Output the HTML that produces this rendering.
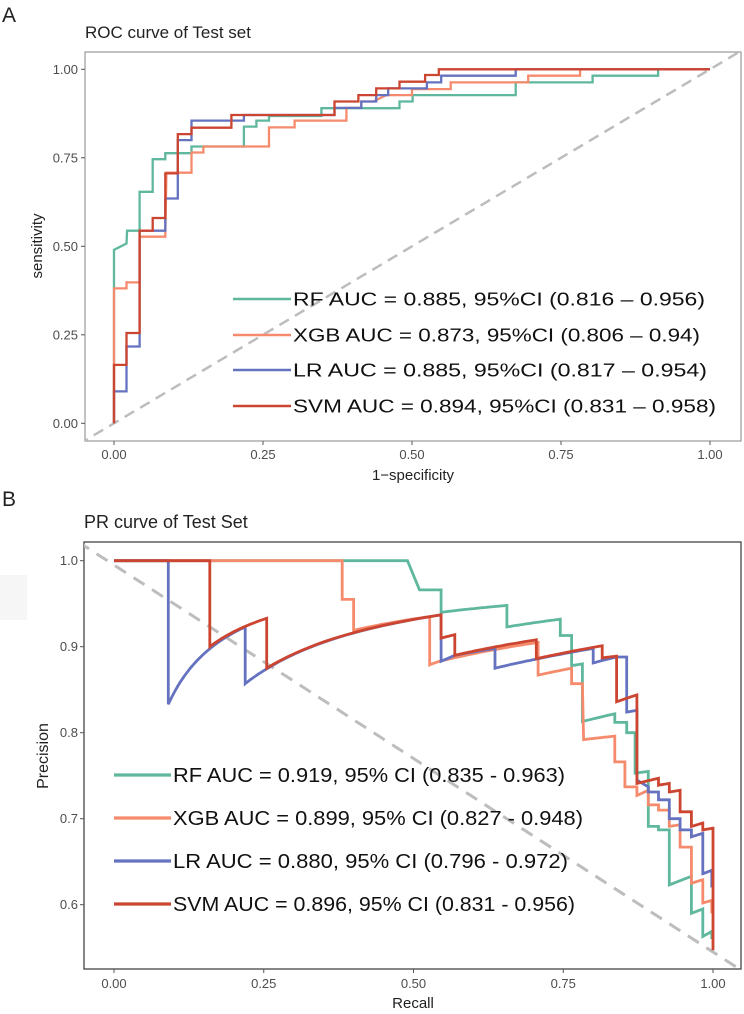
<!DOCTYPE html>
<html><head><meta charset="utf-8"><style>
html,body{margin:0;padding:0;background:#fff;}
svg{display:block;font-family:"Liberation Sans",Arial,sans-serif;}
</style></head><body>
<svg id="fig" width="744" height="1014" viewBox="0 0 744 1014" xmlns="http://www.w3.org/2000/svg">
<rect x="0" y="575" width="27" height="45" fill="#f6f6f6"/>
<text x="2" y="22" font-size="21" fill="#222">A</text>
<text x="85" y="38" font-size="17" fill="#222">ROC curve of Test set</text>
<text x="2" y="506" font-size="21" fill="#222">B</text>
<text x="84" y="528" font-size="18" fill="#222">PR curve of Test Set</text>
<g id="rocG"></g>
<g id="prG"></g>
</svg>
<script>
const NS="http://www.w3.org/2000/svg";
const colors=["#5fb89d","#f58b6c","#6572c0","#cc4531"];
const rocSeries=["RF","XGB","LR","SVM"];
const rocLegend=["RF AUC = 0.885, 95%CI (0.816 – 0.956)","XGB  AUC = 0.873, 95%CI (0.806 – 0.94)","LR AUC = 0.885, 95%CI (0.817 – 0.954)","SVM  AUC = 0.894, 95%CI (0.831 – 0.958)"];
const rocTicks=[0,0.25,0.5,0.75,1];
const rocTickLabels=["0.00","0.25","0.50","0.75","1.00"];
const rocRF=[[0,0],[0,0.49],[0.021,0.508],[0.022,0.544],[0.043,0.544],[0.043,0.654],[0.065,0.654],[0.065,0.746],[0.086,0.746],[0.086,0.763],[0.13,0.763],[0.13,0.782],[0.218,0.782],[0.218,0.838],[0.239,0.838],[0.239,0.855],[0.26,0.855],[0.26,0.868],[0.348,0.868],[0.348,0.89],[0.479,0.89],[0.479,0.909],[0.501,0.909],[0.501,0.927],[0.674,0.927],[0.674,0.963],[0.803,0.963],[0.803,0.982],[0.913,0.982],[0.913,1],[1,1]];
const rocXGB=[[0,0],[0,0.381],[0.021,0.381],[0.021,0.398],[0.043,0.398],[0.043,0.527],[0.086,0.527],[0.088,0.708],[0.13,0.708],[0.13,0.765],[0.15,0.765],[0.15,0.782],[0.26,0.782],[0.26,0.836],[0.303,0.836],[0.303,0.855],[0.39,0.855],[0.39,0.874],[0.39,0.891],[0.415,0.891],[0.415,0.909],[0.435,0.909],[0.457,0.927],[0.5,0.927],[0.5,0.944],[0.565,0.944],[0.565,0.963],[0.695,0.963],[0.695,0.982],[0.782,0.982],[0.782,1],[1,1]];
const rocLR=[[0,0],[0,0.09],[0.021,0.09],[0.021,0.217],[0.043,0.217],[0.043,0.544],[0.086,0.544],[0.086,0.635],[0.107,0.635],[0.107,0.8],[0.13,0.8],[0.13,0.855],[0.218,0.855],[0.218,0.871],[0.37,0.871],[0.37,0.891],[0.415,0.891],[0.415,0.909],[0.44,0.909],[0.44,0.927],[0.46,0.927],[0.46,0.946],[0.525,0.946],[0.525,0.963],[0.549,0.963],[0.549,0.982],[0.674,0.982],[0.674,1],[1,1]];
const rocSVM=[[0,0],[0,0.165],[0.021,0.165],[0.021,0.255],[0.043,0.255],[0.043,0.544],[0.065,0.544],[0.065,0.58],[0.086,0.58],[0.086,0.706],[0.107,0.706],[0.107,0.817],[0.13,0.817],[0.13,0.835],[0.197,0.835],[0.197,0.871],[0.37,0.871],[0.37,0.909],[0.41,0.909],[0.41,0.927],[0.44,0.927],[0.44,0.946],[0.479,0.946],[0.479,0.965],[0.522,0.965],[0.522,0.984],[0.545,0.984],[0.545,1],[1,1]];

const prLegend=["RF  AUC = 0.919, 95% CI (0.835 - 0.963)","XGB AUC = 0.899, 95% CI (0.827 - 0.948)","LR  AUC = 0.880, 95% CI (0.796 - 0.972)","SVM AUC = 0.896, 95% CI (0.831 - 0.956)"];
const prXTicks=[0,0.25,0.5,0.75,1];
const prXLabels=["0.00","0.25","0.50","0.75","1.00"];
const prYTicks=[0.6,0.7,0.8,0.9,1.0];
const prYLabels=["0.6","0.7","0.8","0.9","1.0"];
const prRF=[[0,1],[0.49,1],[0.51,0.966],[0.546,0.966],[0.546,0.94],[0.656,0.948],[0.656,0.923],[0.745,0.932],[0.745,0.913],[0.764,0.913],[0.764,0.878],[0.782,0.88],[0.782,0.813],[0.836,0.822],[0.836,0.812],[0.856,0.812],[0.856,0.8],[0.87,0.8],[0.87,0.753],[0.892,0.755],[0.892,0.691],[0.909,0.691],[0.909,0.687],[0.927,0.687],[0.927,0.623],[0.964,0.633],[0.964,0.59],[0.983,0.595],[0.983,0.563],[0.998,0.569],[0.998,0.56]];
const prXGB=[[0,1],[0.381,1],[0.381,0.955],[0.4,0.955],[0.4,0.919],[0.527,0.935],[0.527,0.879],[0.543,0.883],[0.708,0.905],[0.708,0.867],[0.764,0.875],[0.764,0.857],[0.782,0.857],[0.784,0.792],[0.836,0.796],[0.836,0.766],[0.853,0.766],[0.853,0.737],[0.873,0.737],[0.873,0.727],[0.892,0.733],[0.892,0.716],[0.909,0.716],[0.909,0.71],[0.927,0.71],[0.927,0.691],[0.945,0.693],[0.945,0.667],[0.964,0.667],[0.964,0.625],[0.983,0.629],[0.983,0.602],[0.998,0.605],[0.998,0.59]];
const prLR=[[0,1],[0.0907,1],[0.0907,0.833],[0.219,0.923],[0.219,0.857],[0.252,0.873],[0.546,0.937],[0.546,0.883],[0.569,0.89],[0.636,0.898],[0.636,0.875],[0.708,0.886],[0.8,0.898],[0.8,0.881],[0.815,0.884],[0.839,0.888],[0.856,0.888],[0.856,0.824],[0.873,0.826],[0.873,0.745],[0.892,0.737],[0.892,0.731],[0.909,0.731],[0.909,0.722],[0.927,0.722],[0.927,0.7],[0.945,0.7],[0.945,0.687],[0.964,0.687],[0.964,0.679],[0.983,0.683],[0.983,0.636],[0.998,0.64],[0.998,0.62]];
const prSVM=[[0,1],[0.16,1],[0.16,0.9],[0.255,0.933],[0.255,0.875],[0.546,0.937],[0.546,0.91],[0.569,0.914],[0.569,0.89],[0.705,0.908],[0.705,0.886],[0.815,0.901],[0.815,0.887],[0.839,0.889],[0.839,0.836],[0.873,0.844],[0.873,0.741],[0.909,0.747],[0.909,0.739],[0.927,0.741],[0.927,0.731],[0.945,0.733],[0.945,0.708],[0.964,0.708],[0.964,0.691],[0.983,0.695],[0.983,0.687],[1,0.689],[1,0.547]];
const prDiag=[0.995,-0.45];

function el(tag,attrs,parent){const e=document.createElementNS(NS,tag);for(const k in attrs)e.setAttribute(k,attrs[k]);parent.appendChild(e);return e;}

// ROC panel
const A={l:85,r:741,t:52,b:441};
const ax=v=>114+v*596, ay=v=>423.3-v*354;
const rg=document.getElementById('rocG');
const cpA=el('clipPath',{id:'cpA'},rg);el('rect',{x:A.l,y:A.t,width:A.r-A.l,height:A.b-A.t},cpA);
const rocBg=el('rect',{x:A.l,y:A.t,width:A.r-A.l,height:A.b-A.t,fill:'#fff',stroke:'#999','stroke-width':1.2},rg);


const dA=el('line',{x1:ax(-0.06),y1:ay(-0.06),x2:ax(1.06),y2:ay(1.06),stroke:'#bdbdbd','stroke-width':2.5,'stroke-dasharray':'11 7','clip-path':'url(#cpA)'},rg);


const rocData=[rocRF,rocXGB,rocLR,rocSVM];
rocData.forEach((d,i)=>{
  const p=el('polyline',{points:d.map(q=>ax(q[0]).toFixed(1)+','+ay(q[1]).toFixed(1)).join(' '),fill:'none',stroke:colors[i],'stroke-width':2.3},rg);
  
  
});
rocTicks.forEach((v,i)=>{
  el('line',{x1:ax(v),x2:ax(v),y1:A.b,y2:A.b+4,stroke:'#555','stroke-width':1},rg);
  const tx=el('text',{x:ax(v),y:A.b+18,'font-size':13,fill:'#4d4d4d','text-anchor':'middle'},rg);tx.textContent=rocTickLabels[i];
  
  
  el('line',{x1:A.l-4,x2:A.l,y1:ay(v),y2:ay(v),stroke:'#555','stroke-width':1},rg);
  const ty=el('text',{x:A.l-7,y:ay(v)+4.5,'font-size':13,fill:'#4d4d4d','text-anchor':'end'},rg);ty.textContent=rocTickLabels[i];
  
  
});
const axA=el('text',{x:413,y:480,'font-size':15,fill:'#222','text-anchor':'middle'},rg);axA.textContent='1−specificity';


const ayA=el('text',{x:0,y:0,'font-size':15,fill:'#222','text-anchor':'middle',transform:'translate(42,246) rotate(-90)'},rg);ayA.textContent='sensitivity';


const rocLegY=[299,335,370,406], rocLegEnd=[705,700,707,716];
rocLegend.forEach((t,i)=>{
  const g=el('g',{},rg);
  
  
  el('line',{x1:233,x2:291,y1:rocLegY[i],y2:rocLegY[i],stroke:colors[i],'stroke-width':2.5},g);
  const tx=el('text',{x:293,y:rocLegY[i]+6.5,'font-size':18,fill:'#111',textLength:rocLegEnd[i]-293,lengthAdjust:'spacingAndGlyphs'},g);tx.textContent=t;
});

// PR panel
const B={l:84,r:741,t:542,b:969};
const bx=v=>114+v*599, by=v=>560.7+(1-v)*860;
const pg=document.getElementById('prG');
const cpB=el('clipPath',{id:'cpB'},pg);el('rect',{x:B.l,y:B.t,width:B.r-B.l,height:B.b-B.t},cpB);
const prBg=el('rect',{x:B.l,y:B.t,width:B.r-B.l,height:B.b-B.t,fill:'#fff',stroke:'#444','stroke-width':1.3},pg);


const dB=el('line',{x1:bx(-0.06),y1:by(prDiag[0]+prDiag[1]*-0.06),x2:bx(1.06),y2:by(prDiag[0]+prDiag[1]*1.06),stroke:'#bdbdbd','stroke-width':3,'stroke-dasharray':'13 9','clip-path':'url(#cpB)'},pg);


function prPath(d){
  let s='M'+bx(d[0][0]).toFixed(1)+','+by(d[0][1]).toFixed(1);
  for(let i=1;i<d.length;i++){
    const [r0,p0]=d[i-1],[r1,p1]=d[i];
    if(r1>r0+0.005 && p0<1 && p1<1){
      const k0=r0*(1-p0)/p0,k1=r1*(1-p1)/p1,n=24;
      for(let j=1;j<=n;j++){const r=r0+(r1-r0)*j/n,k=k0+(k1-k0)*j/n;const p=r/(r+k);s+=' L'+bx(r).toFixed(1)+','+by(p).toFixed(1);}
    } else s+=' L'+bx(r1).toFixed(1)+','+by(p1).toFixed(1);
  }
  return s;
}
const prData=[prRF,prXGB,prLR,prSVM];
prData.forEach((d,i)=>{
  const p=el('path',{d:prPath(d),fill:'none',stroke:colors[i],'stroke-width':2.8,'stroke-linejoin':'miter'},pg);
  
  
});
prXTicks.forEach((v,i)=>{
  el('line',{x1:bx(v),x2:bx(v),y1:B.b,y2:B.b+4,stroke:'#555','stroke-width':1},pg);
  const tx=el('text',{x:bx(v),y:B.b+19,'font-size':13,fill:'#4d4d4d','text-anchor':'middle'},pg);tx.textContent=prXLabels[i];
  
  
});
prYTicks.forEach((v,i)=>{
  el('line',{x1:B.l-4,x2:B.l,y1:by(v),y2:by(v),stroke:'#555','stroke-width':1},pg);
  const ty=el('text',{x:B.l-6,y:by(v)+4.5,'font-size':13,fill:'#4d4d4d','text-anchor':'end'},pg);ty.textContent=prYLabels[i];
  
  
});
const axB=el('text',{x:413,y:1008,'font-size':15,fill:'#222','text-anchor':'middle'},pg);axB.textContent='Recall';


const ayB=el('text',{x:0,y:0,'font-size':16,fill:'#222','text-anchor':'middle',transform:'translate(48,756) rotate(-90)'},pg);ayB.textContent='Precision';


const prLegY=[775,818,861,904], prLegEnd=[565,583,568,575];
prLegend.forEach((t,i)=>{
  const g=el('g',{},pg);
  
  
  el('line',{x1:114,x2:171,y1:prLegY[i],y2:prLegY[i],stroke:colors[i],'stroke-width':3.2},g);
  const tx=el('text',{x:173,y:prLegY[i]+7,'font-size':20,fill:'#111',textLength:prLegEnd[i]-173,lengthAdjust:'spacingAndGlyphs'},g);tx.textContent=t;
});
</script>
</body></html>
